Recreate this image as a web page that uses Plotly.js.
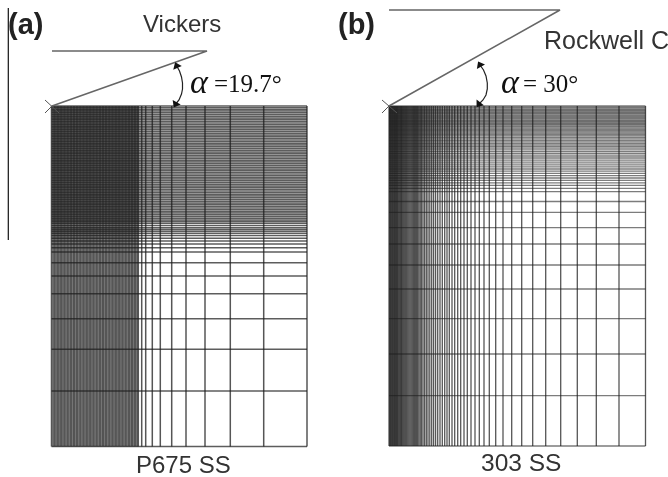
<!DOCTYPE html>
<html>
<head>
<meta charset="utf-8">
<script src="https://cdn.plot.ly/plotly-3.0.1.min.js"></script>
<style>html,body{margin:0;padding:0;background:#fff}#plot{width:668px;height:477px;filter:blur(0.45px)}</style>
</head>
<body>
<div id="plot"></div>
<script>
// Mesh line positions
const meshAColumns = [51.5,53,54.4,55.9,57.3,58.8,60.2,61.7,63.1,64.6,66,67.5,68.9,70.4,71.8,73.3,74.7,76.2,77.6,79.1,80.5,82,83.4,84.9,86.3,87.8,89.2,90.7,92.1,93.6,95,96.5,97.9,99.4,100.8,102.3,103.7,105.2,106.6,108.1,109.5,111,112.4,113.9,115.3,116.8,118.2,119.7,121.1,122.6,124,125.5,126.9,128.4,129.8,131.3,132.7,134.2,135.6,137.1,138.3,141.7,145.7,152.3,160.3,171.7,186,205,230.3,263.7,307];
const meshARows = [106,107.7,109.4,111.1,112.8,114.5,116.2,117.9,119.6,121.3,123,124.7,126.4,128.1,129.8,131.5,133.2,134.9,136.6,138.3,140,141.7,143.4,145.1,146.8,148.5,150.2,151.9,153.6,155.3,157,158.7,160.4,162.1,163.8,165.5,167.2,168.9,170.6,172.3,174,175.7,177.4,179.1,180.8,182.5,184.2,185.9,187.6,189.3,191,192.7,194.4,196.1,197.8,199.5,201.2,202.9,204.6,206.3,208,209.7,211.4,213.1,214.8,216.5,218.2,219.9,221.6,223.3,225.6,227.8,229.6,231.3,233.3,235.6,238.3,241,244,247.7,252,262.7,276,293.7,318.7,349.3,391,446.5];
const meshBColumns = [389,389.7,390.4,391.1,391.8,392.5,393.2,393.9,394.6,395.3,396,396.7,397.4,398.2,399,399.8,400.7,401.5,402.3,403.4,404.5,405.6,406.7,407.8,408.9,410,411.1,412.2,413.3,414.4,415.5,416.6,417.7,418.9,420.2,421.5,423,424.6,426.3,428,429.8,431.7,433.6,435.6,437.7,440,442.3,444.7,447,449.3,452,454.7,457.7,460.7,464,467.3,471,475,479.3,484,489.3,495.7,503,511.7,521.7,532.7,545.7,560.7,577.3,596.3,619,645.5];
const meshBRows = [106,107.1,108.2,109.3,110.4,111.5,112.6,113.7,114.8,115.9,117,118.1,119.2,120.3,121.4,122.5,123.6,124.7,125.8,126.9,128.1,129.3,130.6,131.9,133.2,134.5,135.9,137.3,138.8,140.3,141.8,143.4,145,146.6,148.2,149.9,151.6,153.4,155.2,157,158.9,160.8,162.8,164.8,166.9,169,171.2,173.4,175.7,178,180.4,182.8,185.4,188.4,191.7,201.5,212.3,227.6,244,265,289,318.7,354,395.7,446];
const indenterAx = [52,207,52], indenterAy = [51,51,106];
const indenterBx = [389,560,389], indenterBy = [10,10,106];
const crossAx = [45,59,null,45,52], crossAy = [100,113,null,113,106];
const crossBx = [382,397,null,382,389], crossBy = [100,113,null,113,106];
const arcAx = [176.7,179.5,181.5,182.5,182.5,181.5,179,175.7], arcAy = [66,71,77,83,89,94,100,104];
const arcBx = [480,483.5,486,487.3,487.3,486,483,479], arcBy = [65,70,76,83,89,95,100,104];
const ruleX = [8.3,8.3], ruleY = [8,240];
const labels = [
  {t:'<b>(a)</b>', x:6, y:24, s:29, f:'Liberation Sans', c:'#222'},
  {t:'<b>(b)</b>', x:336, y:24, s:29, f:'Liberation Sans', c:'#222'},
  {t:'Vickers', x:141, y:23, s:24, f:'Liberation Sans', c:'#333'},
  {t:'Rockwell C', x:542, y:40, s:25, f:'Liberation Sans', c:'#333'},
  {t:'P675 SS', x:134, y:464, s:24, f:'Liberation Sans', c:'#333'},
  {t:'303 SS', x:479, y:462, s:24.5, f:'Liberation Sans', c:'#333'},
  {t:'<i>α</i>', x:188, y:81, s:34, f:'Liberation Serif', c:'#111'},
  {t:'=19.7°', x:212, y:83, s:25, f:'Liberation Serif', c:'#111'},
  {t:'<i>α</i>', x:499, y:81, s:34, f:'Liberation Serif', c:'#111'},
  {t:'= 30°', x:521, y:83, s:25, f:'Liberation Serif', c:'#111'}
];

function columns(xs, rows, color, w){ const X=[],Y=[]; xs.forEach(v=>{X.push(v,v,null);Y.push(rows[0],rows[rows.length-1],null);}); return stroke(X,Y,color,w); }
function rowsOf(ys, cols, color, w){ const X=[],Y=[]; ys.forEach(v=>{X.push(cols[0],cols[cols.length-1],null);Y.push(v,v,null);}); return stroke(X,Y,color,w); }
function stroke(x,y,color,w){ return {type:'scatter',mode:'lines',x:x,y:y,connectgaps:false,hoverinfo:'skip',line:{color:color,width:w}}; }
function arrowTips(x,y){ const n=x.length-1; 
  const ang=(i,j)=>Math.atan2(x[i]-x[j],-(y[i]-y[j]))*180/Math.PI;
  return {type:'scatter',mode:'markers',x:[x[0],x[n]],y:[y[0],y[n]],hoverinfo:'skip',
    marker:{symbol:'triangle-up',size:8,color:'#111',angle:[ang(0,2),ang(n,n-2)]}};
}
const data = [
  rowsOf(meshARows,meshAColumns,'rgba(30,30,30,0.72)',1.5),
  columns(meshAColumns,meshARows,'rgba(30,30,30,0.75)',1.5),
  rowsOf(meshBRows,meshBColumns,'rgba(30,30,30,0.58)',1.3),
  columns(meshBColumns,meshBRows,'rgba(30,30,30,0.75)',1.3),
  stroke(indenterAx,indenterAy,'#666',1.5),
  stroke(indenterBx,indenterBy,'#666',1.5),
  stroke(crossAx,crossAy,'#555',1),
  stroke(crossBx,crossBy,'#555',1),
  stroke(arcAx,arcAy,'#222',1.2),
  stroke(arcBx,arcBy,'#222',1.2),
  arrowTips(arcAx,arcAy),
  arrowTips(arcBx,arcBy),
  stroke(ruleX,ruleY,'#111',1.2)
];
const hidden = {visible:false,fixedrange:true,showgrid:false,zeroline:false};
const layout = {
  width:668,height:477,margin:{l:0,r:0,t:0,b:0},showlegend:false,
  paper_bgcolor:'#fff',plot_bgcolor:'#fff',
  xaxis:{...hidden,range:[0,668]},
  yaxis:{...hidden,range:[477,0]},
  annotations:labels.map(l=>({text:l.t,x:l.x,y:l.y,xref:'x',yref:'y',xanchor:'left',yanchor:'middle',showarrow:false,font:{family:l.f,size:l.s,color:l.c}}))
};
Plotly.newPlot('plot',data,layout,{displayModeBar:false,staticPlot:true});
</script>
</body>
</html>
